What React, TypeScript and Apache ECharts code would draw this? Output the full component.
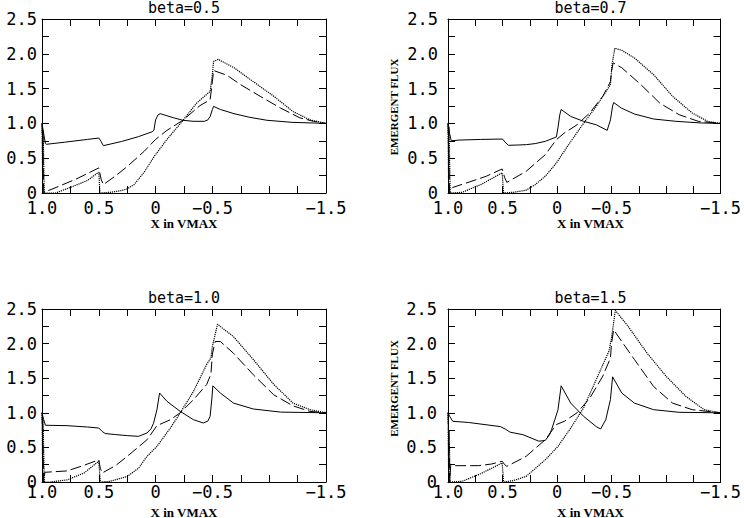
import React, { useEffect, useRef } from "react";
import * as echarts from "echarts";

// ---- Panel titles ----
const panelTitles = ["beta=0.5", "beta=0.7", "beta=1.0", "beta=1.5"];
const xAxisTitle = "X in VMAX";
const yAxisTitle = "EMERGENT FLUX";

// ---- Tick labels ----
const xLabelValues = [1.0, 0.5, 0, -0.5, -1.5];
const xLabelTexts = ["1.0", "0.5", "0", "\u22120.5", "\u22121.5"];
const yLabelValues = [0, 0.5, 1.0, 1.5, 2.0, 2.5];
const yLabelTexts = ["0", "0.5", "1.0", "1.5", "2.0", "2.5"];

// ---- beta = 0.5 ----
const solid05 = [[1.0,1.0],[0.985,0.85],[0.97,0.71],[0.96,0.70],[0.8,0.73],[0.6,0.77],[0.5,0.79],[0.48,0.74],[0.46,0.68],[0.3,0.74],[0.15,0.81],[0.03,0.88],[0.015,0.9],[0.0,1.05],[-0.02,1.12],[-0.04,1.14],[-0.1,1.11],[-0.16,1.08],[-0.24,1.045],[-0.33,1.03],[-0.43,1.03],[-0.46,1.05],[-0.48,1.10],[-0.5,1.2],[-0.51,1.245],[-0.57,1.20],[-0.69,1.14],[-0.83,1.087],[-0.98,1.045],[-1.2,1.015],[-1.5,1.0]];
const dashed05 = [[1.0,1.0],[0.99,0.4],[0.985,0.0],[0.975,0.02],[0.92,0.05],[0.7,0.2],[0.5,0.36],[0.48,0.2],[0.46,0.12],[0.35,0.25],[0.25,0.38],[0.1,0.6],[0.0,0.77],[-0.1,0.9],[-0.24,1.045],[-0.39,1.255],[-0.48,1.34],[-0.5,1.6],[-0.51,1.76],[-0.63,1.69],[-0.745,1.56],[-0.92,1.39],[-1.1,1.22],[-1.27,1.08],[-1.39,1.03],[-1.5,1.0]];
const dotted05 = [[1.0,1.0],[0.995,0.3],[0.99,0.9],[0.98,0.0],[0.88,0.0],[0.75,0.08],[0.6,0.18],[0.5,0.30],[0.49,0.0],[0.4,0.01],[0.3,0.035],[0.25,0.06],[0.19,0.12],[0.1,0.3],[0.01,0.53],[-0.1,0.77],[-0.24,1.04],[-0.36,1.29],[-0.48,1.46],[-0.5,1.7],[-0.51,1.89],[-0.55,1.92],[-0.69,1.80],[-0.86,1.60],[-1.04,1.39],[-1.21,1.17],[-1.36,1.05],[-1.5,1.0]];

// ---- beta = 0.7 ----
const solid07 = [[1.0,1.0],[0.985,0.85],[0.97,0.75],[0.9,0.76],[0.7,0.77],[0.5,0.775],[0.47,0.72],[0.445,0.685],[0.35,0.69],[0.28,0.695],[0.2,0.71],[0.108,0.742],[0.006,0.805],[-0.01,0.95],[-0.025,1.12],[-0.038,1.2],[-0.126,1.10],[-0.243,1.03],[-0.36,0.98],[-0.46,0.90],[-0.49,1.05],[-0.51,1.25],[-0.52,1.30],[-0.59,1.22],[-0.71,1.135],[-0.886,1.063],[-1.09,1.03],[-1.32,1.006],[-1.5,1.0]];
const dashed07 = [[1.0,1.0],[0.99,0.3],[0.985,0.0],[0.975,0.05],[0.956,0.08],[0.8,0.16],[0.65,0.24],[0.503,0.345],[0.48,0.22],[0.46,0.153],[0.284,0.31],[0.108,0.55],[0.006,0.766],[-0.067,0.862],[-0.184,0.98],[-0.30,1.15],[-0.42,1.39],[-0.49,1.6],[-0.5,1.75],[-0.515,1.87],[-0.594,1.8],[-0.77,1.556],[-0.944,1.29],[-1.12,1.125],[-1.295,1.03],[-1.5,1.0]];
const dotted07 = [[1.0,1.0],[0.995,0.2],[0.99,0.95],[0.98,0.0],[0.87,0.01],[0.7,0.12],[0.503,0.29],[0.49,0.0],[0.4,0.01],[0.284,0.04],[0.2,0.12],[0.108,0.24],[0.006,0.43],[-0.126,0.74],[-0.243,1.0],[-0.36,1.245],[-0.49,1.556],[-0.505,1.85],[-0.53,2.08],[-0.594,2.05],[-0.71,1.94],[-0.886,1.70],[-1.06,1.39],[-1.24,1.15],[-1.38,1.03],[-1.5,1.0]];

// ---- beta = 1.0 ----
const solid10 = [[1.0,1.0],[0.985,0.9],[0.97,0.82],[0.78,0.814],[0.6,0.795],[0.5,0.78],[0.47,0.73],[0.443,0.70],[0.35,0.685],[0.25,0.67],[0.15,0.66],[0.076,0.708],[0.04,0.77],[0.018,0.85],[-0.012,1.045],[-0.035,1.286],[-0.1,1.166],[-0.217,1.02],[-0.334,0.90],[-0.42,0.853],[-0.46,0.88],[-0.48,0.95],[-0.495,1.2],[-0.504,1.39],[-0.57,1.286],[-0.686,1.14],[-0.86,1.055],[-1.1,1.01],[-1.5,1.0]];
const dashed10 = [[1.0,1.0],[0.99,0.4],[0.985,0.0],[0.975,0.14],[0.78,0.16],[0.65,0.23],[0.5,0.32],[0.487,0.2],[0.47,0.13],[0.35,0.24],[0.25,0.37],[0.076,0.61],[-0.012,0.814],[-0.13,0.90],[-0.217,1.0],[-0.334,1.19],[-0.45,1.41],[-0.487,1.56],[-0.5,1.85],[-0.525,2.03],[-0.57,2.03],[-0.686,1.86],[-0.86,1.55],[-1.04,1.26],[-1.21,1.10],[-1.36,1.02],[-1.5,1.0]];
const dotted10 = [[1.0,1.0],[0.995,0.3],[0.99,0.9],[0.98,0.0],[0.93,0.0],[0.78,0.03],[0.63,0.13],[0.5,0.30],[0.487,0.0],[0.4,0.01],[0.25,0.08],[0.15,0.2],[0.076,0.37],[-0.012,0.515],[-0.13,0.78],[-0.217,1.0],[-0.334,1.31],[-0.45,1.70],[-0.487,1.79],[-0.5,1.96],[-0.545,2.28],[-0.686,2.10],[-0.86,1.77],[-1.04,1.41],[-1.21,1.14],[-1.36,1.045],[-1.5,1.0]];

// ---- beta = 1.5 ----
const solid15 = [[1.0,1.0],[0.985,0.95],[0.956,0.877],[0.81,0.86],[0.518,0.80],[0.47,0.76],[0.43,0.72],[0.313,0.684],[0.167,0.59],[0.108,0.60],[0.07,0.68],[0.05,0.756],[0.02,0.9],[-0.009,1.045],[-0.038,1.39],[-0.126,1.14],[-0.243,0.95],[-0.36,0.80],[-0.40,0.766],[-0.447,0.90],[-0.49,1.19],[-0.51,1.52],[-0.594,1.286],[-0.71,1.14],[-0.886,1.045],[-1.12,1.007],[-1.5,1.0]];
const dashed15 = [[1.0,1.0],[0.99,0.5],[0.985,0.0],[0.975,0.236],[0.72,0.236],[0.6,0.26],[0.503,0.30],[0.48,0.25],[0.46,0.226],[0.284,0.37],[0.108,0.61],[0.006,0.83],[-0.067,0.877],[-0.184,1.0],[-0.30,1.21],[-0.42,1.53],[-0.49,1.79],[-0.5,2.0],[-0.52,2.20],[-0.594,2.03],[-0.71,1.77],[-0.886,1.38],[-1.06,1.14],[-1.24,1.045],[-1.5,1.0]];
const dotted15 = [[1.0,1.0],[0.995,0.2],[0.99,0.75],[0.98,0.0],[0.87,0.01],[0.7,0.12],[0.503,0.275],[0.49,0.0],[0.4,0.02],[0.284,0.08],[0.108,0.32],[-0.009,0.515],[-0.126,0.78],[-0.243,1.07],[-0.36,1.48],[-0.476,1.89],[-0.50,2.08],[-0.535,2.48],[-0.652,2.25],[-0.827,1.86],[-1.0,1.53],[-1.18,1.24],[-1.35,1.045],[-1.5,1.0]];

const panelSeries = [
  [solid05, dashed05, dotted05],
  [solid07, dashed07, dotted07],
  [solid10, dashed10, dotted10],
  [solid15, dashed15, dotted15],
];

// layout (pixels)
const grids = [
  { left: 42, top: 19, width: 284, height: 174 },
  { left: 448, top: 19, width: 285, height: 174 },
  { left: 42, top: 309, width: 284, height: 173 },
  { left: 448, top: 309, width: 285, height: 173 },
];
const yLabelMargins = [5, 10, 5, 11];
const xLabelMargins = [8, 8, 3, 3];
const showYName = [false, true, false, true];

const TICK_FONT = "DejaVu Sans Mono";
const NAME_FONT = "Liberation Serif";

function fmtX(v: number) {
  const i = xLabelValues.findIndex((a) => Math.abs(a - v) < 1e-6);
  return i >= 0 ? xLabelTexts[i] : "";
}
function fmtY(v: number) {
  const i = yLabelValues.findIndex((a) => Math.abs(a - v) < 1e-6);
  return i >= 0 ? yLabelTexts[i] : "";
}

const lineTypes: any[] = ["solid", [11, 4], [1.2, 0.9]];
const lineWidths = [1, 1, 1.2];

export default function App() {
  const ref = useRef<HTMLDivElement>(null);
  useEffect(() => {
    if (!ref.current) return;
    const chart = echarts.init(ref.current, null, { renderer: "svg" });
    const xAxes: any[] = [];
    const yAxes: any[] = [];
    const series: any[] = [];
    const graphics: any[] = [];
    const tick = { show: true, inside: true, length: 7, lineStyle: { color: "#000", width: 1 } };
    const axLine = { show: true, onZero: false, lineStyle: { color: "#000", width: 1 } };
    grids.forEach((g, i) => {
      xAxes.push({
        type: "value", gridIndex: i, min: -1.5, max: 1.0, interval: 0.25, inverse: true,
        position: "bottom", axisLine: axLine, axisTick: tick, splitLine: { show: false },
        axisLabel: { formatter: fmtX, color: "#000", fontFamily: TICK_FONT, fontSize: 17,
          lineHeight: 13, margin: xLabelMargins[i], showMinLabel: true, showMaxLabel: true },
      });
      xAxes.push({
        type: "value", gridIndex: i, min: -1.5, max: 1.0, interval: 0.25, inverse: true,
        position: "top", axisLine: axLine, axisTick: tick, splitLine: { show: false },
        axisLabel: { show: false },
      });
      yAxes.push({
        type: "value", gridIndex: i, min: 0, max: 2.5, interval: 0.25,
        position: "left", axisLine: axLine, axisTick: tick, splitLine: { show: false },
        axisLabel: { formatter: fmtY, color: "#000", fontFamily: TICK_FONT, fontSize: 17,
          lineHeight: 13, margin: yLabelMargins[i], showMinLabel: true, showMaxLabel: true },
      });
      yAxes.push({
        type: "value", gridIndex: i, min: 0, max: 2.5, interval: 0.25,
        position: "right", axisLine: axLine, axisTick: tick, splitLine: { show: false },
        axisLabel: { show: false },
      });
      panelSeries[i].forEach((d, k) => {
        series.push({
          type: "line", xAxisIndex: 2 * i, yAxisIndex: 2 * i, data: d,
          showSymbol: false, symbol: "none", smooth: false,
          lineStyle: { color: "#000", width: lineWidths[k], type: lineTypes[k] },
        });
      });
      const cx = g.left + g.width / 2;
      graphics.push({
        type: "text", x: cx, y: g.top - 11,
        style: { text: panelTitles[i], fill: "#000", font: `15px "${TICK_FONT}"`,
          textAlign: "center", textVerticalAlign: "middle" },
      });
      graphics.push({
        type: "text", x: cx, y: g.top + g.height + 30,
        style: { text: xAxisTitle, fill: "#000", font: `bold 13px "${NAME_FONT}"`,
          textAlign: "center", textVerticalAlign: "middle" },
      });
      if (showYName[i]) {
        graphics.push({
          type: "text", x: g.left - 54, y: g.top + g.height / 2 + (i === 3 ? -7 : 1),
          rotation: Math.PI / 2,
          style: { text: yAxisTitle, fill: "#000", font: `bold 11px "${NAME_FONT}"`,
            textAlign: "center", textVerticalAlign: "middle" },
        });
      }
    });
    chart.setOption({
      animation: false,
      backgroundColor: "#fff",
      grid: grids.map((g) => ({ ...g, containLabel: false })),
      xAxis: xAxes,
      yAxis: yAxes,
      series,
      graphic: graphics,
    });
    return () => chart.dispose();
  }, []);
  return (
    <div
      ref={ref}
      style={{ position: "fixed", left: 0, top: 0, width: 744, height: 518, background: "#fff" }}
    />
  );
}
